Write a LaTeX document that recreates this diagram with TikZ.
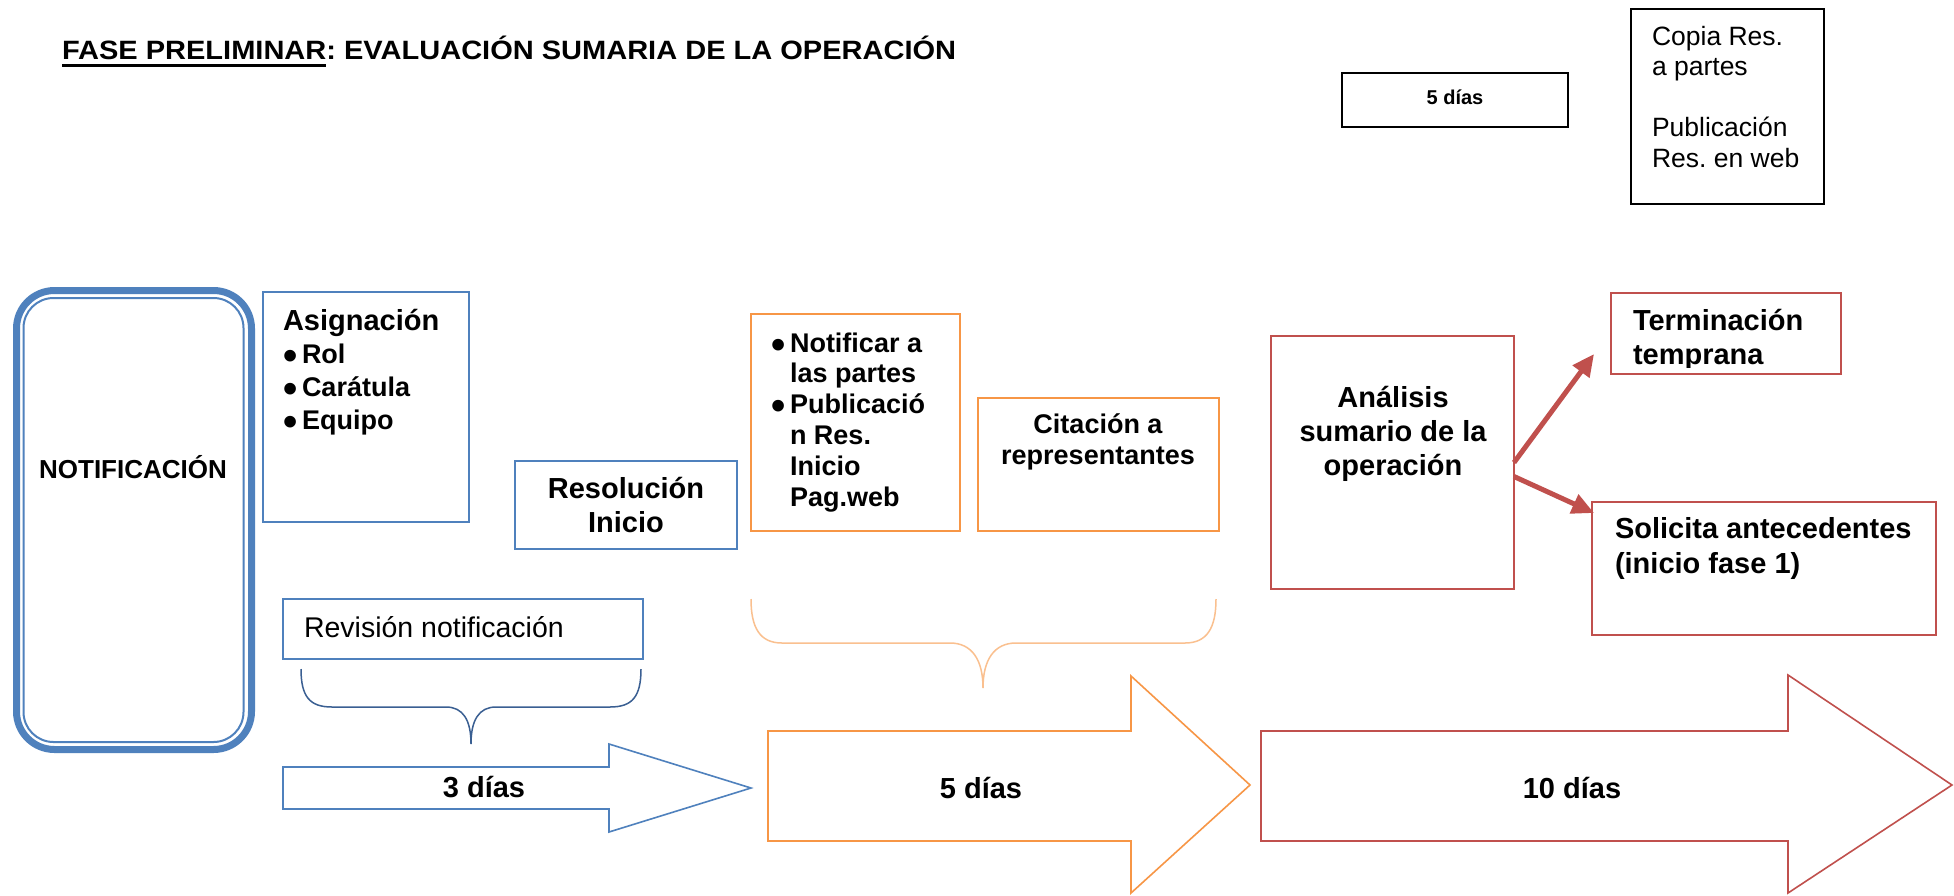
\documentclass[tikz,border=0pt]{standalone}
\usepackage{graphicx}
\usepackage{fontspec}
\setmainfont{Liberation Sans}
\newfontfamily\titlefont[FakeStretch=1.095]{Liberation Sans}
\usetikzlibrary{arrows.meta}
\definecolor{ablue}{HTML}{4F81BD}
\definecolor{bracedark}{HTML}{3A5F92}
\definecolor{aorange}{HTML}{F79646}
\definecolor{lorange}{HTML}{FAC08F}
\definecolor{ared}{HTML}{C0504D}
\newcommand{\fsz}[2]{\fontsize{#1}{#2}\selectfont}
\newcommand{\bul}{\makebox[19pt][l]{\smash{\raisebox{-6pt}{\scalebox{1.5}{\textbullet}}}}}
\frenchspacing
\begin{document}
\frenchspacing
\begin{tikzpicture}[x=1pt,y=-1pt,
  every node/.style={inner sep=0pt, outer sep=0pt},
  bluebox/.style={draw=ablue, line width=1.6pt},
  orangebox/.style={draw=aorange, line width=1.8pt},
  redbox/.style={draw=ared, line width=1.8pt},
  blackbox/.style={draw=black, line width=1.5pt},
  bigtxt/.style={font=\bfseries\fsz{29}{34}},
  midtxt/.style={font=\bfseries\fsz{27}{33}},
  blueshape/.style={draw=ablue, line width=1.6pt, line join=miter},
  orangeshape/.style={draw=aorange, line width=1.6pt, line join=miter},
  redshape/.style={draw=ared, line width=1.6pt, line join=miter},
  redarrow/.style={draw=ared, line width=5pt, -{Triangle[length=22pt,width=20pt]}}
]
\fill[white] (0,0) rectangle (1954,895);
\useasboundingbox (0,0) rectangle (1954,895);

% title
\node[anchor=base west, font=\titlefont\bfseries\fsz{26.5}{30}] (t1) at (62,59) {FASE PRELIMINAR};
\node[anchor=base west, font=\titlefont\bfseries\fsz{26.5}{30}] (t2) at (t1.base east) {: EVALUACIÓN SUMARIA DE LA OPERACIÓN};
\draw[line width=3pt] ([yshift=-6.5pt]t1.base west) -- ([yshift=-6.5pt]t1.base east);

% NOTIFICACION
\node[draw=ablue, line width=7pt, rounded corners=38pt, minimum width=235pt, minimum height=459pt] (notif) at (134,520) {};
\draw[ablue, line width=2pt, rounded corners=30pt] ([shift={(7,7.5)}]notif.north west) rectangle ([shift={(-8,-7.5)}]notif.south east);
\node[anchor=base, font=\bfseries\fsz{26}{30}] (notiftxt) at (133,478) {NOTIFICACIÓN};

% Asignacion (anchor = baseline of last line)
\node[bluebox, minimum width=206pt, minimum height=230pt] (asig) at (366,407) {};
\node[anchor=base west, align=left, midtxt] (asigtxt) at (283,429) {{\fsz{29}{33}Asignación}\\ \bul Rol\\ \bul Carátula\\ \bul Equipo};

% Resolucion Inicio
\node[bluebox, minimum width=222pt, minimum height=88pt] (resol) at (626,505) {};
\node[anchor=base, align=center, bigtxt] (resoltxt) at (626,532) {Resolución\\Inicio};

% Notificar a las partes
\node[orangebox, minimum width=209pt, minimum height=217pt] (notpar) at (855.5,422.5) {};
\node[anchor=base west, align=left, font=\bfseries\fsz{27}{30.8}] (notpartxt) at (771,506) {\bul Notificar a\\ \hspace*{19pt}las partes\\ \bul Publicació\\ \hspace*{19pt}n Res.\\ \hspace*{19pt}Inicio\\ \hspace*{19pt}Pag.web};

% Citacion
\node[orangebox, minimum width=241pt, minimum height=133pt] (cita) at (1098.5,464.5) {};
\node[anchor=base, align=center, font=\bfseries\fsz{27}{31}] (citatxt) at (1098,464) {Citación a\\representantes};

% Analisis
\node[redbox, minimum width=243pt, minimum height=253pt] (ana) at (1392.5,462.5) {};
\node[anchor=base, align=center, font=\bfseries\fsz{29}{34}] (anatxt) at (1393,475) {Análisis\\sumario de la\\operación};

% Terminacion temprana
\node[redbox, minimum width=230pt, minimum height=81pt] (term) at (1726,333.5) {};
\begin{scope}
\clip (1612,294) rectangle (1840,367);
\node[anchor=base west, align=left, font=\bfseries\fsz{29}{34}] (termtxt) at (1633,364) {Terminación\\temprana};
\end{scope}

% Solicita antecedentes
\node[redbox, minimum width=344pt, minimum height=133pt] (soli) at (1764,568.5) {};
\node[anchor=base west, align=left, font=\bfseries\fsz{29}{35}] (solitxt) at (1615,573) {Solicita antecedentes\\(inicio fase 1)};

% red arrows
\coordinate (tip1) at (1594,354);
\coordinate (tip2) at (1594,513);
\draw[redarrow] (ana.east) -- (tip1);
\draw[redarrow] ([yshift=-14pt]ana.east) -- (tip2);

% top boxes
\node[blackbox, minimum width=226pt, minimum height=54pt] (dias5top) at (1455,100) {};
\node[anchor=base, font=\bfseries\fsz{20}{24}] (dias5toptxt) at (1455,104) {5 días};
\node[blackbox, minimum width=193pt, minimum height=195pt] (copia) at (1727.5,106.5) {};
\node[anchor=base west, align=left, font=\fsz{26.5}{30.5}] (copiatxt) at (1652,167) {Copia Res.\\a partes\\[30.5pt]Publicación\\Res.\ en web};

% Revision notificacion
\node[bluebox, minimum width=360pt, minimum height=60pt] (revis) at (463,629) {};
\node[anchor=base west, font=\fsz{28.5}{33}] (revistxt) at (304,637) {Revisión notificación};

% braces
\draw[bracedark, line width=1.5pt] (301,669) .. controls (301,697) and (310,707) .. (332,707) -- (446,707) .. controls (463,707) and (471,720) .. (471,744) .. controls (471,720) and (479,707) .. (496,707) -- (610,707) .. controls (632,707) and (641,697) .. (641,669);
\draw[lorange, line width=1.5pt] (751,599) .. controls (751,628) and (760,643) .. (782,643) -- (950,643) .. controls (972,643) and (983,660) .. (983,688) .. controls (983,660) and (994,643) .. (1016,643) -- (1185,643) .. controls (1207,643) and (1216,628) .. (1216,599);

% duration arrows
\draw[blueshape] (283,767) -- (609,767) -- (609,744) -- (751,788) -- (609,832) -- (609,809) -- (283,809) -- cycle;
\node[anchor=base, bigtxt] (dias3) at (484,797) {3 días};
\draw[orangeshape] (768,731) -- (1131,731) -- (1131,676) -- (1250,785) -- (1131,893) -- (1131,841) -- (768,841) -- cycle;
\node[anchor=base, bigtxt] (dias5) at (981,798) {5 días};
\draw[redshape] (1261,731) -- (1788,731) -- (1788,675) -- (1952,785) -- (1788,893) -- (1788,841) -- (1261,841) -- cycle;
\node[anchor=base, bigtxt] (dias10) at (1572,798) {10 días};
\end{tikzpicture}
\end{document}
